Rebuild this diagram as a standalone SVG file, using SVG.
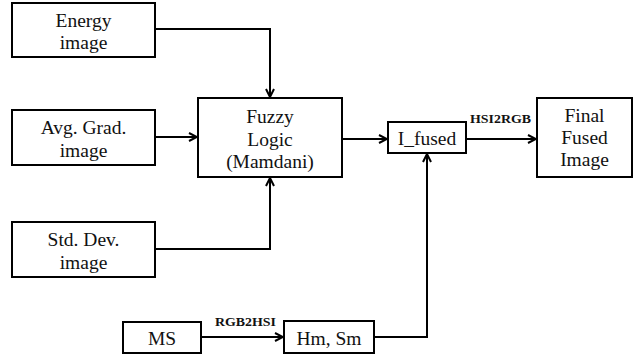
<svg xmlns="http://www.w3.org/2000/svg" width="634" height="354" viewBox="0 0 634 354">
<style>
.box{fill:#fff;stroke:#000;stroke-width:2}
.t{font-family:'Liberation Serif','Times New Roman','DejaVu Serif',serif;font-size:19.5px;text-anchor:middle;fill:#111}
.lbl{font-family:'Liberation Serif','Times New Roman','DejaVu Serif',serif;font-size:12.5px;font-weight:bold;fill:#111}
.c{fill:none;stroke:#000;stroke-width:2;marker-end:url(#ah)}
</style>
<defs>
<marker id="ah" viewBox="0 0 10 10" refX="9" refY="5" markerWidth="10" markerHeight="10" markerUnits="userSpaceOnUse" orient="auto">
<path d="M1,1 L9,5 L1,9" fill="none" stroke="#000" stroke-width="2"/>
</marker>
</defs>
<g id="connectors">
<path class="c" d="M155,29 H270 V97"/>
<path class="c" d="M155,137 H197"/>
<path class="c" d="M155,249 H270 V178"/>
<path class="c" d="M342,139 H387"/>
<path class="c" d="M466,139 H536"/>
<path class="c" d="M201,337 H283"/>
<path class="c" d="M374,337 H427 V154"/>
<text class="lbl" x="470" y="123" textLength="61" lengthAdjust="spacingAndGlyphs">HSI2RGB</text>
<text class="lbl" x="215" y="326" textLength="61" lengthAdjust="spacingAndGlyphs">RGB2HSI</text>
</g>
<g id="energy">
<rect class="box" x="12" y="3" width="143" height="54"/>
<text class="t" x="83.5" y="27">Energy</text>
<text class="t" x="83.5" y="49">image</text>
</g>
<g id="avggrad">
<rect class="box" x="12" y="110" width="143" height="55"/>
<text class="t" x="83.5" y="134">Avg. Grad.</text>
<text class="t" x="83.5" y="157">image</text>
</g>
<g id="stddev">
<rect class="box" x="12" y="222" width="143" height="55"/>
<text class="t" x="83.5" y="246">Std. Dev.</text>
<text class="t" x="83.5" y="269">image</text>
</g>
<g id="fuzzy">
<rect class="box" x="198" y="98" width="144" height="79"/>
<text class="t" x="270" y="123">Fuzzy</text>
<text class="t" x="270" y="146">Logic</text>
<text class="t" x="270" y="168">(Mamdani)</text>
</g>
<g id="ifused">
<rect class="box" x="388" y="122" width="78" height="31"/>
<text class="t" x="427" y="145">I_fused</text>
</g>
<g id="final">
<rect class="box" x="537" y="98" width="95" height="79"/>
<text class="t" x="584.5" y="122">Final</text>
<text class="t" x="584.5" y="144">Fused</text>
<text class="t" x="584.5" y="166">Image</text>
</g>
<g id="ms">
<rect class="box" x="123" y="322" width="78" height="31"/>
<text class="t" x="162" y="345">MS</text>
</g>
<g id="hmsm">
<rect class="box" x="284" y="321" width="90" height="32"/>
<text class="t" x="329" y="345">Hm, Sm</text>
</g>
</svg>
